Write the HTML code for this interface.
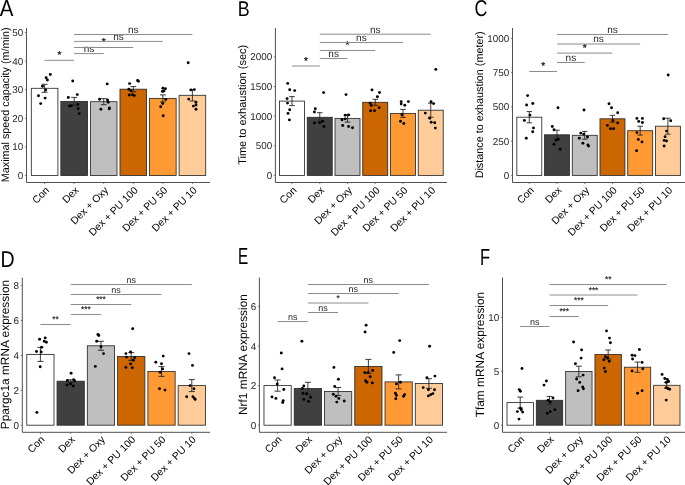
<!DOCTYPE html>
<html><head><meta charset="utf-8"><style>
html,body{margin:0;padding:0;background:#fff;}
svg{display:block;will-change:transform;}
text{font-family:"Liberation Sans",sans-serif;text-rendering:geometricPrecision;}
</style></head><body>
<svg width="685" height="485" viewBox="0 0 685 485">
<rect width="685" height="485" fill="#fff"/>
<text transform="translate(-0.19,16) scale(0.884,1)" font-size="23.2" fill="#000">A</text>
<text transform="translate(8.6,104.85) rotate(-90)" text-anchor="middle" font-size="10.8" fill="#000000">Maximal speed capacity (m/min)</text>
<line x1="44.6" y1="60.3" x2="74.16" y2="60.3" stroke="#8c8c8c" stroke-width="1.0"/>
<text x="59.38" y="58.1" text-anchor="middle" font-size="10.0" stroke="#262626" stroke-width="0.35" fill="#262626">*</text>
<line x1="74.16" y1="53.6" x2="103.72" y2="53.6" stroke="#8c8c8c" stroke-width="1.0"/>
<text x="88.94" y="51.9" text-anchor="middle" font-size="10.0" fill="#262626">ns</text>
<line x1="74.16" y1="47.5" x2="133.28" y2="47.5" stroke="#8c8c8c" stroke-width="1.0"/>
<text x="103.72" y="45.3" text-anchor="middle" font-size="10.0" stroke="#262626" stroke-width="0.35" fill="#262626">*</text>
<line x1="74.16" y1="41.4" x2="162.84" y2="41.4" stroke="#8c8c8c" stroke-width="1.0"/>
<text x="118.5" y="39.7" text-anchor="middle" font-size="10.0" fill="#262626">ns</text>
<line x1="74.16" y1="34.5" x2="192.4" y2="34.5" stroke="#8c8c8c" stroke-width="1.0"/>
<text x="133.28" y="32.8" text-anchor="middle" font-size="10.0" fill="#262626">ns</text>
<rect x="31.3" y="88.3" width="26.6" height="87.2" fill="#ffffff" stroke="#2a2a2a" stroke-width="0.85"/>
<rect x="60.86" y="101.4" width="26.6" height="74.1" fill="#404040" stroke="#2a2a2a" stroke-width="0.85"/>
<rect x="90.42" y="101.7" width="26.6" height="73.8" fill="#bfbfbf" stroke="#2a2a2a" stroke-width="0.85"/>
<rect x="119.98" y="89.2" width="26.6" height="86.3" fill="#cc6600" stroke="#2a2a2a" stroke-width="0.85"/>
<rect x="149.54" y="98.4" width="26.6" height="77.1" fill="#ff9933" stroke="#2a2a2a" stroke-width="0.85"/>
<rect x="179.1" y="95.3" width="26.6" height="80.2" fill="#ffcc99" stroke="#2a2a2a" stroke-width="0.85"/>
<path d="M41.64 84.3H47.56M44.6 84.3V92.3M41.64 92.3H47.56" stroke="#262626" stroke-width="0.9" fill="none"/>
<path d="M71.2 97.4H77.12M74.16 97.4V105.4M71.2 105.4H77.12" stroke="#262626" stroke-width="0.9" fill="none"/>
<path d="M100.76 98.7H106.68M103.72 98.7V104.7M100.76 104.7H106.68" stroke="#262626" stroke-width="0.9" fill="none"/>
<path d="M130.32 86.6H136.24M133.28 86.6V91.8M130.32 91.8H136.24" stroke="#262626" stroke-width="0.9" fill="none"/>
<path d="M159.88 94.9H165.8M162.84 94.9V101.9M159.88 101.9H165.8" stroke="#262626" stroke-width="0.9" fill="none"/>
<path d="M189.44 89.6H195.36M192.4 89.6V101M189.44 101H195.36" stroke="#262626" stroke-width="0.9" fill="none"/>
<circle cx="50.3" cy="74.5" r="1.45"/>
<circle cx="46.1" cy="77.7" r="1.45"/>
<circle cx="47.4" cy="80" r="1.45"/>
<circle cx="42.5" cy="86.3" r="1.45"/>
<circle cx="45.7" cy="90" r="1.45"/>
<circle cx="38.5" cy="95.7" r="1.45"/>
<circle cx="45.1" cy="98.1" r="1.45"/>
<circle cx="40.7" cy="103.6" r="1.45"/>
<circle cx="72.7" cy="81" r="1.45"/>
<circle cx="77.3" cy="94.6" r="1.45"/>
<circle cx="68.3" cy="97.5" r="1.45"/>
<circle cx="69.4" cy="106" r="1.45"/>
<circle cx="71.4" cy="105.7" r="1.45"/>
<circle cx="77.7" cy="104.4" r="1.45"/>
<circle cx="78.2" cy="108.6" r="1.45"/>
<circle cx="79.2" cy="113.6" r="1.45"/>
<circle cx="107.2" cy="83.9" r="1.45"/>
<circle cx="99.6" cy="99.2" r="1.45"/>
<circle cx="107.5" cy="100" r="1.45"/>
<circle cx="108.2" cy="102.3" r="1.45"/>
<circle cx="100.9" cy="109.3" r="1.45"/>
<circle cx="109.5" cy="108" r="1.45"/>
<circle cx="109.2" cy="108.9" r="1.45"/>
<circle cx="137.6" cy="80.4" r="1.45"/>
<circle cx="138.4" cy="81.2" r="1.45"/>
<circle cx="129.6" cy="83.6" r="1.45"/>
<circle cx="128.9" cy="89.2" r="1.45"/>
<circle cx="131" cy="90.7" r="1.45"/>
<circle cx="129.3" cy="95" r="1.45"/>
<circle cx="132.5" cy="94.7" r="1.45"/>
<circle cx="134.3" cy="95.6" r="1.45"/>
<circle cx="162.9" cy="88.2" r="1.45"/>
<circle cx="165.4" cy="88.8" r="1.45"/>
<circle cx="162.4" cy="91.4" r="1.45"/>
<circle cx="163.9" cy="91.1" r="1.45"/>
<circle cx="165.8" cy="99.4" r="1.45"/>
<circle cx="162.7" cy="103.5" r="1.45"/>
<circle cx="160.7" cy="106.7" r="1.45"/>
<circle cx="163.2" cy="115.8" r="1.45"/>
<circle cx="188.2" cy="62.7" r="1.45"/>
<circle cx="190.9" cy="89.9" r="1.45"/>
<circle cx="194.3" cy="89.6" r="1.45"/>
<circle cx="188.7" cy="99.1" r="1.45"/>
<circle cx="196" cy="102.3" r="1.45"/>
<circle cx="196" cy="105" r="1.45"/>
<circle cx="193.4" cy="106.1" r="1.45"/>
<circle cx="196" cy="109.3" r="1.45"/>
<path d="M26.5 28V182.5H210" stroke="#505050" stroke-width="1.0" fill="none"/>
<line x1="24.9" y1="175.5" x2="26.5" y2="175.5" stroke="#505050" stroke-width="0.7"/>
<text x="23.3" y="179.05" text-anchor="end" font-size="9.9" fill="#262626">0</text>
<line x1="24.9" y1="146.9" x2="26.5" y2="146.9" stroke="#505050" stroke-width="0.7"/>
<text x="23.3" y="150.45" text-anchor="end" font-size="9.9" fill="#262626">10</text>
<line x1="24.9" y1="118.3" x2="26.5" y2="118.3" stroke="#505050" stroke-width="0.7"/>
<text x="23.3" y="121.85" text-anchor="end" font-size="9.9" fill="#262626">20</text>
<line x1="24.9" y1="89.7" x2="26.5" y2="89.7" stroke="#505050" stroke-width="0.7"/>
<text x="23.3" y="93.25" text-anchor="end" font-size="9.9" fill="#262626">30</text>
<line x1="24.9" y1="61.1" x2="26.5" y2="61.1" stroke="#505050" stroke-width="0.7"/>
<text x="23.3" y="64.65" text-anchor="end" font-size="9.9" fill="#262626">40</text>
<line x1="24.9" y1="32.5" x2="26.5" y2="32.5" stroke="#505050" stroke-width="0.7"/>
<text x="23.3" y="36.05" text-anchor="end" font-size="9.9" fill="#262626">50</text>
<line x1="44.6" y1="182.5" x2="44.6" y2="184.1" stroke="#505050" stroke-width="0.7"/>
<text transform="translate(49.8,190.85) rotate(-45)" text-anchor="end" font-size="10.3" fill="#000000">Con</text>
<line x1="74.16" y1="182.5" x2="74.16" y2="184.1" stroke="#505050" stroke-width="0.7"/>
<text transform="translate(79.36,190.85) rotate(-45)" text-anchor="end" font-size="10.3" fill="#000000">Dex</text>
<line x1="103.72" y1="182.5" x2="103.72" y2="184.1" stroke="#505050" stroke-width="0.7"/>
<text transform="translate(108.92,190.85) rotate(-45)" text-anchor="end" font-size="10.3" fill="#000000">Dex + Oxy</text>
<line x1="133.28" y1="182.5" x2="133.28" y2="184.1" stroke="#505050" stroke-width="0.7"/>
<text transform="translate(138.48,190.85) rotate(-45)" text-anchor="end" font-size="10.3" fill="#000000">Dex + PU 100</text>
<line x1="162.84" y1="182.5" x2="162.84" y2="184.1" stroke="#505050" stroke-width="0.7"/>
<text transform="translate(168.04,190.85) rotate(-45)" text-anchor="end" font-size="10.3" fill="#000000">Dex + PU 50</text>
<line x1="192.4" y1="182.5" x2="192.4" y2="184.1" stroke="#505050" stroke-width="0.7"/>
<text transform="translate(197.6,190.85) rotate(-45)" text-anchor="end" font-size="10.3" fill="#000000">Dex + PU 10</text>
<text transform="translate(237.79,16) scale(0.834,1)" font-size="21.4" fill="#000">B</text>
<text transform="translate(245.7,104.85) rotate(-90)" text-anchor="middle" font-size="11.0" fill="#000000">Time to exhaustion (sec)</text>
<line x1="292" y1="66" x2="319.75" y2="66" stroke="#8c8c8c" stroke-width="1.0"/>
<text x="305.88" y="63.8" text-anchor="middle" font-size="10.0" stroke="#262626" stroke-width="0.35" fill="#262626">*</text>
<line x1="319.75" y1="58.5" x2="347.5" y2="58.5" stroke="#8c8c8c" stroke-width="1.0"/>
<text x="333.62" y="56.8" text-anchor="middle" font-size="10.0" fill="#262626">ns</text>
<line x1="319.75" y1="50.5" x2="375.25" y2="50.5" stroke="#8c8c8c" stroke-width="1.0"/>
<text x="347.5" y="48.3" text-anchor="middle" font-size="10.0" stroke="#262626" stroke-width="0.35" fill="#262626">*</text>
<line x1="319.75" y1="42.5" x2="403" y2="42.5" stroke="#8c8c8c" stroke-width="1.0"/>
<text x="361.38" y="40.8" text-anchor="middle" font-size="10.0" fill="#262626">ns</text>
<line x1="319.75" y1="34.2" x2="430.75" y2="34.2" stroke="#8c8c8c" stroke-width="1.0"/>
<text x="375.25" y="32.5" text-anchor="middle" font-size="10.0" fill="#262626">ns</text>
<rect x="279.51" y="101.1" width="24.98" height="74.3" fill="#ffffff" stroke="#2a2a2a" stroke-width="0.85"/>
<rect x="307.26" y="117.3" width="24.98" height="58.1" fill="#404040" stroke="#2a2a2a" stroke-width="0.85"/>
<rect x="335.01" y="118.4" width="24.98" height="57" fill="#bfbfbf" stroke="#2a2a2a" stroke-width="0.85"/>
<rect x="362.76" y="102.3" width="24.98" height="73.1" fill="#cc6600" stroke="#2a2a2a" stroke-width="0.85"/>
<rect x="390.51" y="113.4" width="24.98" height="62" fill="#ff9933" stroke="#2a2a2a" stroke-width="0.85"/>
<rect x="418.26" y="110.2" width="24.98" height="65.2" fill="#ffcc99" stroke="#2a2a2a" stroke-width="0.85"/>
<path d="M289.23 96.6H294.77M292 96.6V105.6M289.23 105.6H294.77" stroke="#262626" stroke-width="0.9" fill="none"/>
<path d="M316.98 112.7H322.52M319.75 112.7V121.9M316.98 121.9H322.52" stroke="#262626" stroke-width="0.9" fill="none"/>
<path d="M344.73 114.7H350.27M347.5 114.7V122.1M344.73 122.1H350.27" stroke="#262626" stroke-width="0.9" fill="none"/>
<path d="M372.48 99.3H378.02M375.25 99.3V105.3M372.48 105.3H378.02" stroke="#262626" stroke-width="0.9" fill="none"/>
<path d="M400.23 109.4H405.77M403 109.4V117.4M400.23 117.4H405.77" stroke="#262626" stroke-width="0.9" fill="none"/>
<path d="M427.98 103.2H433.52M430.75 103.2V117.2M427.98 117.2H433.52" stroke="#262626" stroke-width="0.9" fill="none"/>
<circle cx="287.7" cy="83.4" r="1.45"/>
<circle cx="289.7" cy="89.7" r="1.45"/>
<circle cx="294.7" cy="90.6" r="1.45"/>
<circle cx="287.1" cy="98.6" r="1.45"/>
<circle cx="287.5" cy="103.1" r="1.45"/>
<circle cx="289.7" cy="109.8" r="1.45"/>
<circle cx="288" cy="113.4" r="1.45"/>
<circle cx="289.4" cy="119.9" r="1.45"/>
<circle cx="323.6" cy="92.6" r="1.45"/>
<circle cx="315.3" cy="108.8" r="1.45"/>
<circle cx="314.4" cy="112" r="1.45"/>
<circle cx="314.4" cy="123" r="1.45"/>
<circle cx="319.7" cy="122.6" r="1.45"/>
<circle cx="322.6" cy="121.2" r="1.45"/>
<circle cx="323.9" cy="126.5" r="1.45"/>
<circle cx="346" cy="94.6" r="1.45"/>
<circle cx="345.2" cy="115.3" r="1.45"/>
<circle cx="348.6" cy="114.9" r="1.45"/>
<circle cx="342" cy="119.7" r="1.45"/>
<circle cx="345.2" cy="118.9" r="1.45"/>
<circle cx="342.7" cy="125.5" r="1.45"/>
<circle cx="348.6" cy="126.5" r="1.45"/>
<circle cx="352.5" cy="127.8" r="1.45"/>
<circle cx="372" cy="89.9" r="1.45"/>
<circle cx="379.5" cy="92.5" r="1.45"/>
<circle cx="377.4" cy="96.8" r="1.45"/>
<circle cx="370.2" cy="103.3" r="1.45"/>
<circle cx="371.2" cy="105.5" r="1.45"/>
<circle cx="379.2" cy="107.6" r="1.45"/>
<circle cx="370.6" cy="110.8" r="1.45"/>
<circle cx="374.5" cy="110.8" r="1.45"/>
<circle cx="401.2" cy="101.6" r="1.45"/>
<circle cx="401.2" cy="104" r="1.45"/>
<circle cx="404.8" cy="105.2" r="1.45"/>
<circle cx="408.4" cy="101.6" r="1.45"/>
<circle cx="401.9" cy="114.8" r="1.45"/>
<circle cx="400.5" cy="121.3" r="1.45"/>
<circle cx="403.8" cy="123.5" r="1.45"/>
<circle cx="435.8" cy="69.4" r="1.45"/>
<circle cx="431" cy="101.8" r="1.45"/>
<circle cx="433.6" cy="103.6" r="1.45"/>
<circle cx="425.3" cy="113.1" r="1.45"/>
<circle cx="429.7" cy="118.2" r="1.45"/>
<circle cx="431.2" cy="122.3" r="1.45"/>
<circle cx="434.7" cy="122.8" r="1.45"/>
<circle cx="435.4" cy="128.1" r="1.45"/>
<path d="M275.4 28V182.5H447" stroke="#505050" stroke-width="1.0" fill="none"/>
<line x1="273.8" y1="175.4" x2="275.4" y2="175.4" stroke="#505050" stroke-width="0.7"/>
<text x="272.2" y="178.95" text-anchor="end" font-size="9.9" fill="#262626">0</text>
<line x1="273.8" y1="145.77" x2="275.4" y2="145.77" stroke="#505050" stroke-width="0.7"/>
<text x="272.2" y="149.32" text-anchor="end" font-size="9.9" fill="#262626">500</text>
<line x1="273.8" y1="116.14" x2="275.4" y2="116.14" stroke="#505050" stroke-width="0.7"/>
<text x="272.2" y="119.69" text-anchor="end" font-size="9.9" fill="#262626">1000</text>
<line x1="273.8" y1="86.51" x2="275.4" y2="86.51" stroke="#505050" stroke-width="0.7"/>
<text x="272.2" y="90.06" text-anchor="end" font-size="9.9" fill="#262626">1500</text>
<line x1="273.8" y1="56.88" x2="275.4" y2="56.88" stroke="#505050" stroke-width="0.7"/>
<text x="272.2" y="60.43" text-anchor="end" font-size="9.9" fill="#262626">2000</text>
<line x1="292" y1="182.5" x2="292" y2="184.1" stroke="#505050" stroke-width="0.7"/>
<text transform="translate(297.2,190.85) rotate(-45)" text-anchor="end" font-size="10.3" fill="#000000">Con</text>
<line x1="319.75" y1="182.5" x2="319.75" y2="184.1" stroke="#505050" stroke-width="0.7"/>
<text transform="translate(324.95,190.85) rotate(-45)" text-anchor="end" font-size="10.3" fill="#000000">Dex</text>
<line x1="347.5" y1="182.5" x2="347.5" y2="184.1" stroke="#505050" stroke-width="0.7"/>
<text transform="translate(352.7,190.85) rotate(-45)" text-anchor="end" font-size="10.3" fill="#000000">Dex + Oxy</text>
<line x1="375.25" y1="182.5" x2="375.25" y2="184.1" stroke="#505050" stroke-width="0.7"/>
<text transform="translate(380.45,190.85) rotate(-45)" text-anchor="end" font-size="10.3" fill="#000000">Dex + PU 100</text>
<line x1="403" y1="182.5" x2="403" y2="184.1" stroke="#505050" stroke-width="0.7"/>
<text transform="translate(408.2,190.85) rotate(-45)" text-anchor="end" font-size="10.3" fill="#000000">Dex + PU 50</text>
<line x1="430.75" y1="182.5" x2="430.75" y2="184.1" stroke="#505050" stroke-width="0.7"/>
<text transform="translate(435.95,190.85) rotate(-45)" text-anchor="end" font-size="10.3" fill="#000000">Dex + PU 10</text>
<text transform="translate(474.44,16) scale(0.783,1)" font-size="22.8" fill="#000">C</text>
<text transform="translate(482.8,104.85) rotate(-90)" text-anchor="middle" font-size="10.8" fill="#000000">Distance to exhaustion (meter)</text>
<line x1="529.3" y1="71.5" x2="557.02" y2="71.5" stroke="#8c8c8c" stroke-width="1.0"/>
<text x="543.16" y="69.3" text-anchor="middle" font-size="10.0" stroke="#262626" stroke-width="0.35" fill="#262626">*</text>
<line x1="557.02" y1="62.5" x2="584.74" y2="62.5" stroke="#8c8c8c" stroke-width="1.0"/>
<text x="570.88" y="60.8" text-anchor="middle" font-size="10.0" fill="#262626">ns</text>
<line x1="557.02" y1="53.1" x2="612.46" y2="53.1" stroke="#8c8c8c" stroke-width="1.0"/>
<text x="584.74" y="50.9" text-anchor="middle" font-size="10.0" stroke="#262626" stroke-width="0.35" fill="#262626">*</text>
<line x1="557.02" y1="44" x2="640.18" y2="44" stroke="#8c8c8c" stroke-width="1.0"/>
<text x="598.6" y="42.3" text-anchor="middle" font-size="10.0" fill="#262626">ns</text>
<line x1="557.02" y1="34.5" x2="667.9" y2="34.5" stroke="#8c8c8c" stroke-width="1.0"/>
<text x="612.46" y="32.8" text-anchor="middle" font-size="10.0" fill="#262626">ns</text>
<rect x="516.83" y="117.2" width="24.95" height="58.2" fill="#ffffff" stroke="#2a2a2a" stroke-width="0.85"/>
<rect x="544.55" y="134.8" width="24.95" height="40.6" fill="#404040" stroke="#2a2a2a" stroke-width="0.85"/>
<rect x="572.27" y="135.3" width="24.95" height="40.1" fill="#bfbfbf" stroke="#2a2a2a" stroke-width="0.85"/>
<rect x="599.99" y="118.8" width="24.95" height="56.6" fill="#cc6600" stroke="#2a2a2a" stroke-width="0.85"/>
<rect x="627.71" y="130.7" width="24.95" height="44.7" fill="#ff9933" stroke="#2a2a2a" stroke-width="0.85"/>
<rect x="655.43" y="126.2" width="24.95" height="49.2" fill="#ffcc99" stroke="#2a2a2a" stroke-width="0.85"/>
<path d="M526.53 111.6H532.07M529.3 111.6V122.8M526.53 122.8H532.07" stroke="#262626" stroke-width="0.9" fill="none"/>
<path d="M554.25 130.2H559.79M557.02 130.2V139.4M554.25 139.4H559.79" stroke="#262626" stroke-width="0.9" fill="none"/>
<path d="M581.97 131.4H587.51M584.74 131.4V139.2M581.97 139.2H587.51" stroke="#262626" stroke-width="0.9" fill="none"/>
<path d="M609.69 115.3H615.23M612.46 115.3V122.3M609.69 122.3H615.23" stroke="#262626" stroke-width="0.9" fill="none"/>
<path d="M637.41 126.3H642.95M640.18 126.3V135.1M637.41 135.1H642.95" stroke="#262626" stroke-width="0.9" fill="none"/>
<path d="M665.13 118.2H670.67M667.9 118.2V134.2M665.13 134.2H670.67" stroke="#262626" stroke-width="0.9" fill="none"/>
<circle cx="527.6" cy="95.6" r="1.45"/>
<circle cx="526.6" cy="105" r="1.45"/>
<circle cx="532.8" cy="103.5" r="1.45"/>
<circle cx="529.9" cy="115.1" r="1.45"/>
<circle cx="524.4" cy="120.4" r="1.45"/>
<circle cx="533.5" cy="127.9" r="1.45"/>
<circle cx="532.7" cy="131.7" r="1.45"/>
<circle cx="526.3" cy="138.2" r="1.45"/>
<circle cx="558" cy="107.7" r="1.45"/>
<circle cx="552.3" cy="126.5" r="1.45"/>
<circle cx="554" cy="129.8" r="1.45"/>
<circle cx="558.3" cy="139.2" r="1.45"/>
<circle cx="556.2" cy="140.3" r="1.45"/>
<circle cx="554" cy="144.2" r="1.45"/>
<circle cx="560.2" cy="149.3" r="1.45"/>
<circle cx="584" cy="110" r="1.45"/>
<circle cx="580.7" cy="133.1" r="1.45"/>
<circle cx="583.6" cy="134.1" r="1.45"/>
<circle cx="579.3" cy="138.2" r="1.45"/>
<circle cx="587.5" cy="137" r="1.45"/>
<circle cx="582.9" cy="143.2" r="1.45"/>
<circle cx="587.9" cy="144.9" r="1.45"/>
<circle cx="588.6" cy="146.1" r="1.45"/>
<circle cx="609" cy="103.7" r="1.45"/>
<circle cx="611.5" cy="107.8" r="1.45"/>
<circle cx="617.7" cy="112.8" r="1.45"/>
<circle cx="612.9" cy="120.4" r="1.45"/>
<circle cx="617.7" cy="122.9" r="1.45"/>
<circle cx="607.4" cy="125.4" r="1.45"/>
<circle cx="610.5" cy="128.7" r="1.45"/>
<circle cx="613.6" cy="128.7" r="1.45"/>
<circle cx="636.9" cy="118.4" r="1.45"/>
<circle cx="642.4" cy="118.4" r="1.45"/>
<circle cx="638.7" cy="121.4" r="1.45"/>
<circle cx="642.4" cy="122.5" r="1.45"/>
<circle cx="636.9" cy="132.6" r="1.45"/>
<circle cx="638.3" cy="139.4" r="1.45"/>
<circle cx="642" cy="141.9" r="1.45"/>
<circle cx="636.6" cy="150.7" r="1.45"/>
<circle cx="668.2" cy="75" r="1.45"/>
<circle cx="663.7" cy="118.8" r="1.45"/>
<circle cx="670.7" cy="120.8" r="1.45"/>
<circle cx="666.5" cy="131.1" r="1.45"/>
<circle cx="665.1" cy="136.7" r="1.45"/>
<circle cx="664.1" cy="140.4" r="1.45"/>
<circle cx="666.5" cy="141" r="1.45"/>
<circle cx="664.1" cy="146" r="1.45"/>
<path d="M512.5 28V182.5H685" stroke="#505050" stroke-width="1.0" fill="none"/>
<line x1="510.9" y1="175.4" x2="512.5" y2="175.4" stroke="#505050" stroke-width="0.7"/>
<text x="509.3" y="178.95" text-anchor="end" font-size="9.9" fill="#262626">0</text>
<line x1="510.9" y1="141.15" x2="512.5" y2="141.15" stroke="#505050" stroke-width="0.7"/>
<text x="509.3" y="144.7" text-anchor="end" font-size="9.9" fill="#262626">250</text>
<line x1="510.9" y1="106.9" x2="512.5" y2="106.9" stroke="#505050" stroke-width="0.7"/>
<text x="509.3" y="110.45" text-anchor="end" font-size="9.9" fill="#262626">500</text>
<line x1="510.9" y1="72.65" x2="512.5" y2="72.65" stroke="#505050" stroke-width="0.7"/>
<text x="509.3" y="76.2" text-anchor="end" font-size="9.9" fill="#262626">750</text>
<line x1="510.9" y1="38.4" x2="512.5" y2="38.4" stroke="#505050" stroke-width="0.7"/>
<text x="509.3" y="41.95" text-anchor="end" font-size="9.9" fill="#262626">1000</text>
<line x1="529.3" y1="182.5" x2="529.3" y2="184.1" stroke="#505050" stroke-width="0.7"/>
<text transform="translate(534.5,190.85) rotate(-45)" text-anchor="end" font-size="10.3" fill="#000000">Con</text>
<line x1="557.02" y1="182.5" x2="557.02" y2="184.1" stroke="#505050" stroke-width="0.7"/>
<text transform="translate(562.22,190.85) rotate(-45)" text-anchor="end" font-size="10.3" fill="#000000">Dex</text>
<line x1="584.74" y1="182.5" x2="584.74" y2="184.1" stroke="#505050" stroke-width="0.7"/>
<text transform="translate(589.94,190.85) rotate(-45)" text-anchor="end" font-size="10.3" fill="#000000">Dex + Oxy</text>
<line x1="612.46" y1="182.5" x2="612.46" y2="184.1" stroke="#505050" stroke-width="0.7"/>
<text transform="translate(617.66,190.85) rotate(-45)" text-anchor="end" font-size="10.3" fill="#000000">Dex + PU 100</text>
<line x1="640.18" y1="182.5" x2="640.18" y2="184.1" stroke="#505050" stroke-width="0.7"/>
<text transform="translate(645.38,190.85) rotate(-45)" text-anchor="end" font-size="10.3" fill="#000000">Dex + PU 50</text>
<line x1="667.9" y1="182.5" x2="667.9" y2="184.1" stroke="#505050" stroke-width="0.7"/>
<text transform="translate(673.1,190.85) rotate(-45)" text-anchor="end" font-size="10.3" fill="#000000">Dex + PU 10</text>
<text transform="translate(0.4,267) scale(0.856,1)" font-size="22.8" fill="#000">D</text>
<text transform="translate(8.6,354.55) rotate(-90)" text-anchor="middle" font-size="11.9" fill="#000000">Ppargc1a mRNA expression</text>
<line x1="40.4" y1="324.5" x2="70.68" y2="324.5" stroke="#8c8c8c" stroke-width="1.0"/>
<text x="55.54" y="322.3" text-anchor="middle" font-size="8.2" stroke="#262626" stroke-width="0.2" fill="#262626">**</text>
<line x1="70.68" y1="314.5" x2="100.96" y2="314.5" stroke="#8c8c8c" stroke-width="1.0"/>
<text x="85.82" y="312.3" text-anchor="middle" font-size="8.2" stroke="#262626" stroke-width="0.2" fill="#262626">***</text>
<line x1="70.68" y1="304.5" x2="131.24" y2="304.5" stroke="#8c8c8c" stroke-width="1.0"/>
<text x="100.96" y="302.3" text-anchor="middle" font-size="8.2" stroke="#262626" stroke-width="0.2" fill="#262626">***</text>
<line x1="70.68" y1="294.5" x2="161.52" y2="294.5" stroke="#8c8c8c" stroke-width="1.0"/>
<text x="116.1" y="292.8" text-anchor="middle" font-size="9.0" fill="#262626">ns</text>
<line x1="70.68" y1="284.5" x2="191.8" y2="284.5" stroke="#8c8c8c" stroke-width="1.0"/>
<text x="131.24" y="282.8" text-anchor="middle" font-size="9.0" fill="#262626">ns</text>
<rect x="26.77" y="354.4" width="27.25" height="70.8" fill="#ffffff" stroke="#2a2a2a" stroke-width="0.85"/>
<rect x="57.05" y="381.2" width="27.25" height="44" fill="#404040" stroke="#2a2a2a" stroke-width="0.85"/>
<rect x="87.33" y="345.8" width="27.25" height="79.4" fill="#bfbfbf" stroke="#2a2a2a" stroke-width="0.85"/>
<rect x="117.61" y="356.5" width="27.25" height="68.7" fill="#cc6600" stroke="#2a2a2a" stroke-width="0.85"/>
<rect x="147.89" y="371.5" width="27.25" height="53.7" fill="#ff9933" stroke="#2a2a2a" stroke-width="0.85"/>
<rect x="178.17" y="385.6" width="27.25" height="39.6" fill="#ffcc99" stroke="#2a2a2a" stroke-width="0.85"/>
<path d="M37.37 347.4H43.43M40.4 347.4V361.4M37.37 361.4H43.43" stroke="#262626" stroke-width="0.9" fill="none"/>
<path d="M67.65 379.8H73.71M70.68 379.8V382.6M67.65 382.6H73.71" stroke="#262626" stroke-width="0.9" fill="none"/>
<path d="M97.93 341.3H103.99M100.96 341.3V350.3M97.93 350.3H103.99" stroke="#262626" stroke-width="0.9" fill="none"/>
<path d="M128.21 352.6H134.27M131.24 352.6V360.4M128.21 360.4H134.27" stroke="#262626" stroke-width="0.9" fill="none"/>
<path d="M158.49 366.6H164.55M161.52 366.6V376.4M158.49 376.4H164.55" stroke="#262626" stroke-width="0.9" fill="none"/>
<path d="M188.77 379.6H194.83M191.8 379.6V391.6M188.77 391.6H194.83" stroke="#262626" stroke-width="0.9" fill="none"/>
<circle cx="39.6" cy="339.2" r="1.45"/>
<circle cx="45.2" cy="337.9" r="1.45"/>
<circle cx="44.3" cy="341.2" r="1.45"/>
<circle cx="46.4" cy="342.3" r="1.45"/>
<circle cx="41.6" cy="347.2" r="1.45"/>
<circle cx="36.5" cy="351.5" r="1.45"/>
<circle cx="41.2" cy="352" r="1.45"/>
<circle cx="40.2" cy="366.8" r="1.45"/>
<circle cx="36.9" cy="412.4" r="1.45"/>
<circle cx="71.1" cy="373.2" r="1.45"/>
<circle cx="67.4" cy="380.4" r="1.45"/>
<circle cx="73.6" cy="379.8" r="1.45"/>
<circle cx="74.6" cy="380.8" r="1.45"/>
<circle cx="67" cy="385" r="1.45"/>
<circle cx="70.5" cy="383.9" r="1.45"/>
<circle cx="73.2" cy="386" r="1.45"/>
<circle cx="97.9" cy="334.4" r="1.45"/>
<circle cx="98.8" cy="335.5" r="1.45"/>
<circle cx="96.7" cy="341.2" r="1.45"/>
<circle cx="101" cy="346.8" r="1.45"/>
<circle cx="103.5" cy="353.6" r="1.45"/>
<circle cx="95.3" cy="366.4" r="1.45"/>
<circle cx="132.7" cy="328.7" r="1.45"/>
<circle cx="125.9" cy="353.6" r="1.45"/>
<circle cx="130.6" cy="352" r="1.45"/>
<circle cx="126.5" cy="357.1" r="1.45"/>
<circle cx="134.7" cy="357.5" r="1.45"/>
<circle cx="133.3" cy="360.2" r="1.45"/>
<circle cx="130.6" cy="363.9" r="1.45"/>
<circle cx="125.9" cy="367.4" r="1.45"/>
<circle cx="132.3" cy="367.8" r="1.45"/>
<circle cx="163.2" cy="356.1" r="1.45"/>
<circle cx="155.8" cy="362.3" r="1.45"/>
<circle cx="161.5" cy="363.7" r="1.45"/>
<circle cx="162.6" cy="368.9" r="1.45"/>
<circle cx="160.1" cy="372.2" r="1.45"/>
<circle cx="159.5" cy="388.7" r="1.45"/>
<circle cx="165" cy="390.1" r="1.45"/>
<circle cx="189" cy="353.6" r="1.45"/>
<circle cx="192.5" cy="365.4" r="1.45"/>
<circle cx="190" cy="385.6" r="1.45"/>
<circle cx="193.9" cy="388.7" r="1.45"/>
<circle cx="186.7" cy="396.7" r="1.45"/>
<circle cx="192.9" cy="396.7" r="1.45"/>
<circle cx="195.2" cy="399.4" r="1.45"/>
<circle cx="194.5" cy="398.4" r="1.45"/>
<path d="M22.3 277.6V432.3H210.1" stroke="#505050" stroke-width="1.0" fill="none"/>
<line x1="20.7" y1="425.2" x2="22.3" y2="425.2" stroke="#505050" stroke-width="0.7"/>
<text x="19.1" y="428.75" text-anchor="end" font-size="9.9" fill="#262626">0</text>
<line x1="20.7" y1="390.32" x2="22.3" y2="390.32" stroke="#505050" stroke-width="0.7"/>
<text x="19.1" y="393.87" text-anchor="end" font-size="9.9" fill="#262626">2</text>
<line x1="20.7" y1="355.44" x2="22.3" y2="355.44" stroke="#505050" stroke-width="0.7"/>
<text x="19.1" y="358.99" text-anchor="end" font-size="9.9" fill="#262626">4</text>
<line x1="20.7" y1="320.56" x2="22.3" y2="320.56" stroke="#505050" stroke-width="0.7"/>
<text x="19.1" y="324.11" text-anchor="end" font-size="9.9" fill="#262626">6</text>
<line x1="20.7" y1="285.68" x2="22.3" y2="285.68" stroke="#505050" stroke-width="0.7"/>
<text x="19.1" y="289.23" text-anchor="end" font-size="9.9" fill="#262626">8</text>
<line x1="40.4" y1="432.3" x2="40.4" y2="433.9" stroke="#505050" stroke-width="0.7"/>
<text transform="translate(45.2,440.2) rotate(-45)" text-anchor="end" font-size="10.3" fill="#000000">Con</text>
<line x1="70.68" y1="432.3" x2="70.68" y2="433.9" stroke="#505050" stroke-width="0.7"/>
<text transform="translate(75.48,440.2) rotate(-45)" text-anchor="end" font-size="10.3" fill="#000000">Dex</text>
<line x1="100.96" y1="432.3" x2="100.96" y2="433.9" stroke="#505050" stroke-width="0.7"/>
<text transform="translate(105.76,440.2) rotate(-45)" text-anchor="end" font-size="10.3" fill="#000000">Dex + Oxy</text>
<line x1="131.24" y1="432.3" x2="131.24" y2="433.9" stroke="#505050" stroke-width="0.7"/>
<text transform="translate(136.04,440.2) rotate(-45)" text-anchor="end" font-size="10.3" fill="#000000">Dex + PU 100</text>
<line x1="161.52" y1="432.3" x2="161.52" y2="433.9" stroke="#505050" stroke-width="0.7"/>
<text transform="translate(166.32,440.2) rotate(-45)" text-anchor="end" font-size="10.3" fill="#000000">Dex + PU 50</text>
<line x1="191.8" y1="432.3" x2="191.8" y2="433.9" stroke="#505050" stroke-width="0.7"/>
<text transform="translate(196.6,440.2) rotate(-45)" text-anchor="end" font-size="10.3" fill="#000000">Dex + PU 10</text>
<text transform="translate(237.99,264) scale(0.657,1)" font-size="23.3" fill="#000">E</text>
<text transform="translate(246.5,354.55) rotate(-90)" text-anchor="middle" font-size="11.9" fill="#000000">Nrf1 mRNA expression</text>
<line x1="277.6" y1="321.5" x2="307.86" y2="321.5" stroke="#8c8c8c" stroke-width="1.0"/>
<text x="292.73" y="319.8" text-anchor="middle" font-size="9.0" fill="#262626">ns</text>
<line x1="307.86" y1="312.5" x2="338.12" y2="312.5" stroke="#8c8c8c" stroke-width="1.0"/>
<text x="322.99" y="310.8" text-anchor="middle" font-size="9.0" fill="#262626">ns</text>
<line x1="307.86" y1="303" x2="368.38" y2="303" stroke="#8c8c8c" stroke-width="1.0"/>
<text x="338.12" y="300.8" text-anchor="middle" font-size="8.2" stroke="#262626" stroke-width="0.2" fill="#262626">*</text>
<line x1="307.86" y1="293.5" x2="398.64" y2="293.5" stroke="#8c8c8c" stroke-width="1.0"/>
<text x="353.25" y="291.8" text-anchor="middle" font-size="9.0" fill="#262626">ns</text>
<line x1="307.86" y1="284.5" x2="428.9" y2="284.5" stroke="#8c8c8c" stroke-width="1.0"/>
<text x="368.38" y="282.8" text-anchor="middle" font-size="9.0" fill="#262626">ns</text>
<rect x="263.98" y="385.6" width="27.23" height="39.6" fill="#ffffff" stroke="#2a2a2a" stroke-width="0.85"/>
<rect x="294.24" y="388.5" width="27.23" height="36.7" fill="#404040" stroke="#2a2a2a" stroke-width="0.85"/>
<rect x="324.5" y="391.5" width="27.23" height="33.7" fill="#bfbfbf" stroke="#2a2a2a" stroke-width="0.85"/>
<rect x="354.76" y="366.4" width="27.23" height="58.8" fill="#cc6600" stroke="#2a2a2a" stroke-width="0.85"/>
<rect x="385.02" y="381.9" width="27.23" height="43.3" fill="#ff9933" stroke="#2a2a2a" stroke-width="0.85"/>
<rect x="415.28" y="383.5" width="27.23" height="41.7" fill="#ffcc99" stroke="#2a2a2a" stroke-width="0.85"/>
<path d="M274.57 380H280.63M277.6 380V391.2M274.57 391.2H280.63" stroke="#262626" stroke-width="0.9" fill="none"/>
<path d="M304.83 382.3H310.89M307.86 382.3V394.7M304.83 394.7H310.89" stroke="#262626" stroke-width="0.9" fill="none"/>
<path d="M335.09 387.5H341.15M338.12 387.5V395.5M335.09 395.5H341.15" stroke="#262626" stroke-width="0.9" fill="none"/>
<path d="M365.35 359.4H371.41M368.38 359.4V373.4M365.35 373.4H371.41" stroke="#262626" stroke-width="0.9" fill="none"/>
<path d="M395.61 374.9H401.67M398.64 374.9V388.9M395.61 388.9H401.67" stroke="#262626" stroke-width="0.9" fill="none"/>
<path d="M425.87 378.7H431.93M428.9 378.7V388.3M425.87 388.3H431.93" stroke="#262626" stroke-width="0.9" fill="none"/>
<circle cx="281.3" cy="353" r="1.45"/>
<circle cx="282.1" cy="368.9" r="1.45"/>
<circle cx="274.5" cy="377.7" r="1.45"/>
<circle cx="277.2" cy="383.9" r="1.45"/>
<circle cx="283.8" cy="389.5" r="1.45"/>
<circle cx="272" cy="396.9" r="1.45"/>
<circle cx="275.9" cy="398.4" r="1.45"/>
<circle cx="283.2" cy="400.8" r="1.45"/>
<circle cx="282.7" cy="402.5" r="1.45"/>
<circle cx="301.9" cy="341.2" r="1.45"/>
<circle cx="303.8" cy="386" r="1.45"/>
<circle cx="302.3" cy="388.5" r="1.45"/>
<circle cx="303" cy="393.2" r="1.45"/>
<circle cx="306.5" cy="393.8" r="1.45"/>
<circle cx="310.6" cy="397.3" r="1.45"/>
<circle cx="303.8" cy="399.4" r="1.45"/>
<circle cx="308.5" cy="401.4" r="1.45"/>
<circle cx="333.9" cy="367.4" r="1.45"/>
<circle cx="338.4" cy="379.2" r="1.45"/>
<circle cx="334.7" cy="386.4" r="1.45"/>
<circle cx="333.3" cy="394.2" r="1.45"/>
<circle cx="336" cy="396.3" r="1.45"/>
<circle cx="338.8" cy="398.4" r="1.45"/>
<circle cx="336.8" cy="402.1" r="1.45"/>
<circle cx="344.2" cy="401" r="1.45"/>
<circle cx="366.1" cy="325.2" r="1.45"/>
<circle cx="365.1" cy="332" r="1.45"/>
<circle cx="364.8" cy="372.6" r="1.45"/>
<circle cx="368.1" cy="372.6" r="1.45"/>
<circle cx="372.7" cy="370.5" r="1.45"/>
<circle cx="370.2" cy="376.7" r="1.45"/>
<circle cx="365.5" cy="380.8" r="1.45"/>
<circle cx="366.9" cy="382.3" r="1.45"/>
<circle cx="372.3" cy="382.9" r="1.45"/>
<circle cx="399.7" cy="340.6" r="1.45"/>
<circle cx="393.7" cy="352.4" r="1.45"/>
<circle cx="396.4" cy="383.9" r="1.45"/>
<circle cx="400.5" cy="382.3" r="1.45"/>
<circle cx="395.4" cy="393.2" r="1.45"/>
<circle cx="396.4" cy="395.3" r="1.45"/>
<circle cx="404.6" cy="394.6" r="1.45"/>
<circle cx="403.6" cy="396.3" r="1.45"/>
<circle cx="395.8" cy="398.8" r="1.45"/>
<circle cx="429.6" cy="346.2" r="1.45"/>
<circle cx="426.9" cy="377.7" r="1.45"/>
<circle cx="434.9" cy="376.1" r="1.45"/>
<circle cx="423.2" cy="387.6" r="1.45"/>
<circle cx="428.4" cy="389.7" r="1.45"/>
<circle cx="434.5" cy="389.7" r="1.45"/>
<circle cx="428.4" cy="395.9" r="1.45"/>
<circle cx="430.8" cy="394.6" r="1.45"/>
<circle cx="432.9" cy="393.6" r="1.45"/>
<path d="M259.4 277.6V432.3H447" stroke="#505050" stroke-width="1.0" fill="none"/>
<line x1="257.8" y1="425.2" x2="259.4" y2="425.2" stroke="#505050" stroke-width="0.7"/>
<text x="256.2" y="428.75" text-anchor="end" font-size="9.9" fill="#262626">0</text>
<line x1="257.8" y1="385.6" x2="259.4" y2="385.6" stroke="#505050" stroke-width="0.7"/>
<text x="256.2" y="389.15" text-anchor="end" font-size="9.9" fill="#262626">2</text>
<line x1="257.8" y1="346" x2="259.4" y2="346" stroke="#505050" stroke-width="0.7"/>
<text x="256.2" y="349.55" text-anchor="end" font-size="9.9" fill="#262626">4</text>
<line x1="257.8" y1="306.4" x2="259.4" y2="306.4" stroke="#505050" stroke-width="0.7"/>
<text x="256.2" y="309.95" text-anchor="end" font-size="9.9" fill="#262626">6</text>
<line x1="277.6" y1="432.3" x2="277.6" y2="433.9" stroke="#505050" stroke-width="0.7"/>
<text transform="translate(282.4,440.2) rotate(-45)" text-anchor="end" font-size="10.3" fill="#000000">Con</text>
<line x1="307.86" y1="432.3" x2="307.86" y2="433.9" stroke="#505050" stroke-width="0.7"/>
<text transform="translate(312.66,440.2) rotate(-45)" text-anchor="end" font-size="10.3" fill="#000000">Dex</text>
<line x1="338.12" y1="432.3" x2="338.12" y2="433.9" stroke="#505050" stroke-width="0.7"/>
<text transform="translate(342.92,440.2) rotate(-45)" text-anchor="end" font-size="10.3" fill="#000000">Dex + Oxy</text>
<line x1="368.38" y1="432.3" x2="368.38" y2="433.9" stroke="#505050" stroke-width="0.7"/>
<text transform="translate(373.18,440.2) rotate(-45)" text-anchor="end" font-size="10.3" fill="#000000">Dex + PU 100</text>
<line x1="398.64" y1="432.3" x2="398.64" y2="433.9" stroke="#505050" stroke-width="0.7"/>
<text transform="translate(403.44,440.2) rotate(-45)" text-anchor="end" font-size="10.3" fill="#000000">Dex + PU 50</text>
<line x1="428.9" y1="432.3" x2="428.9" y2="433.9" stroke="#505050" stroke-width="0.7"/>
<text transform="translate(433.7,440.2) rotate(-45)" text-anchor="end" font-size="10.3" fill="#000000">Dex + PU 10</text>
<text transform="translate(479.89,265) scale(0.714,1)" font-size="23.2" fill="#000">F</text>
<text transform="translate(483.5,354.55) rotate(-90)" text-anchor="middle" font-size="11.9" fill="#000000">Tfam mRNA expression</text>
<line x1="520.2" y1="326.5" x2="549.52" y2="326.5" stroke="#8c8c8c" stroke-width="1.0"/>
<text x="534.86" y="324.8" text-anchor="middle" font-size="9.0" fill="#262626">ns</text>
<line x1="549.52" y1="316.5" x2="578.84" y2="316.5" stroke="#8c8c8c" stroke-width="1.0"/>
<text x="564.18" y="314.3" text-anchor="middle" font-size="8.2" stroke="#262626" stroke-width="0.2" fill="#262626">***</text>
<line x1="549.52" y1="305.5" x2="608.16" y2="305.5" stroke="#8c8c8c" stroke-width="1.0"/>
<text x="578.84" y="303.3" text-anchor="middle" font-size="8.2" stroke="#262626" stroke-width="0.2" fill="#262626">***</text>
<line x1="549.52" y1="295" x2="637.48" y2="295" stroke="#8c8c8c" stroke-width="1.0"/>
<text x="593.5" y="292.8" text-anchor="middle" font-size="8.2" stroke="#262626" stroke-width="0.2" fill="#262626">***</text>
<line x1="549.52" y1="284.5" x2="666.8" y2="284.5" stroke="#8c8c8c" stroke-width="1.0"/>
<text x="608.16" y="282.3" text-anchor="middle" font-size="8.2" stroke="#262626" stroke-width="0.2" fill="#262626">**</text>
<rect x="507.01" y="402.6" width="26.39" height="22.6" fill="#ffffff" stroke="#2a2a2a" stroke-width="0.85"/>
<rect x="536.33" y="400.3" width="26.39" height="24.9" fill="#404040" stroke="#2a2a2a" stroke-width="0.85"/>
<rect x="565.65" y="371.5" width="26.39" height="53.7" fill="#bfbfbf" stroke="#2a2a2a" stroke-width="0.85"/>
<rect x="594.97" y="354.5" width="26.39" height="70.7" fill="#cc6600" stroke="#2a2a2a" stroke-width="0.85"/>
<rect x="624.29" y="367.2" width="26.39" height="58" fill="#ff9933" stroke="#2a2a2a" stroke-width="0.85"/>
<rect x="653.61" y="385.3" width="26.39" height="39.9" fill="#ffcc99" stroke="#2a2a2a" stroke-width="0.85"/>
<path d="M517.27 397.1H523.13M520.2 397.1V408.1M517.27 408.1H523.13" stroke="#262626" stroke-width="0.9" fill="none"/>
<path d="M546.59 396.4H552.45M549.52 396.4V404.2M546.59 404.2H552.45" stroke="#262626" stroke-width="0.9" fill="none"/>
<path d="M575.91 366.2H581.77M578.84 366.2V376.8M575.91 376.8H581.77" stroke="#262626" stroke-width="0.9" fill="none"/>
<path d="M605.23 350H611.09M608.16 350V359M605.23 359H611.09" stroke="#262626" stroke-width="0.9" fill="none"/>
<path d="M634.55 362.1H640.41M637.48 362.1V372.3M634.55 372.3H640.41" stroke="#262626" stroke-width="0.9" fill="none"/>
<path d="M663.87 382.4H669.73M666.8 382.4V388.2M663.87 388.2H669.73" stroke="#262626" stroke-width="0.9" fill="none"/>
<circle cx="522" cy="368.5" r="1.45"/>
<circle cx="519.2" cy="389.6" r="1.45"/>
<circle cx="520.4" cy="391.2" r="1.45"/>
<circle cx="520.4" cy="408.2" r="1.45"/>
<circle cx="521.3" cy="409.8" r="1.45"/>
<circle cx="517.4" cy="411.6" r="1.45"/>
<circle cx="522.6" cy="412.1" r="1.45"/>
<circle cx="519" cy="419.1" r="1.45"/>
<circle cx="546.4" cy="381" r="1.45"/>
<circle cx="544" cy="385.1" r="1.45"/>
<circle cx="553" cy="398" r="1.45"/>
<circle cx="548" cy="400.3" r="1.45"/>
<circle cx="550.3" cy="402.1" r="1.45"/>
<circle cx="554.8" cy="409.8" r="1.45"/>
<circle cx="550.3" cy="411.6" r="1.45"/>
<circle cx="547.3" cy="413.2" r="1.45"/>
<circle cx="573.6" cy="342" r="1.45"/>
<circle cx="581.6" cy="349.9" r="1.45"/>
<circle cx="581.1" cy="358.1" r="1.45"/>
<circle cx="575.4" cy="363.8" r="1.45"/>
<circle cx="583.1" cy="375.1" r="1.45"/>
<circle cx="576.6" cy="379" r="1.45"/>
<circle cx="579.7" cy="382.4" r="1.45"/>
<circle cx="582.7" cy="386.9" r="1.45"/>
<circle cx="583.4" cy="388.7" r="1.45"/>
<circle cx="578.1" cy="390.8" r="1.45"/>
<circle cx="606.5" cy="330.9" r="1.45"/>
<circle cx="609.5" cy="338.1" r="1.45"/>
<circle cx="610.4" cy="342.7" r="1.45"/>
<circle cx="605.4" cy="356.8" r="1.45"/>
<circle cx="607.6" cy="357.9" r="1.45"/>
<circle cx="603.8" cy="359.7" r="1.45"/>
<circle cx="609.2" cy="361.3" r="1.45"/>
<circle cx="604.2" cy="368.1" r="1.45"/>
<circle cx="605.4" cy="371.5" r="1.45"/>
<circle cx="639.4" cy="349.5" r="1.45"/>
<circle cx="632.1" cy="355.2" r="1.45"/>
<circle cx="634.9" cy="355.6" r="1.45"/>
<circle cx="632.6" cy="359" r="1.45"/>
<circle cx="642.1" cy="362.4" r="1.45"/>
<circle cx="642.8" cy="368.8" r="1.45"/>
<circle cx="632.1" cy="371" r="1.45"/>
<circle cx="637.6" cy="393.3" r="1.45"/>
<circle cx="642.1" cy="390.8" r="1.45"/>
<circle cx="662.1" cy="374.4" r="1.45"/>
<circle cx="664.8" cy="378.5" r="1.45"/>
<circle cx="667.3" cy="379.4" r="1.45"/>
<circle cx="666.2" cy="382.4" r="1.45"/>
<circle cx="668.4" cy="381.3" r="1.45"/>
<circle cx="666.2" cy="387.6" r="1.45"/>
<circle cx="669.6" cy="389.2" r="1.45"/>
<circle cx="667.8" cy="388.5" r="1.45"/>
<circle cx="666.2" cy="400.1" r="1.45"/>
<path d="M502.5 277.6V432.3H685" stroke="#505050" stroke-width="1.0" fill="none"/>
<line x1="500.9" y1="425.2" x2="502.5" y2="425.2" stroke="#505050" stroke-width="0.7"/>
<text x="499.3" y="428.75" text-anchor="end" font-size="9.9" fill="#262626">0</text>
<line x1="500.9" y1="371.35" x2="502.5" y2="371.35" stroke="#505050" stroke-width="0.7"/>
<text x="499.3" y="374.9" text-anchor="end" font-size="9.9" fill="#262626">5</text>
<line x1="500.9" y1="317.5" x2="502.5" y2="317.5" stroke="#505050" stroke-width="0.7"/>
<text x="499.3" y="321.05" text-anchor="end" font-size="9.9" fill="#262626">10</text>
<line x1="520.2" y1="432.3" x2="520.2" y2="433.9" stroke="#505050" stroke-width="0.7"/>
<text transform="translate(525,440.2) rotate(-45)" text-anchor="end" font-size="10.3" fill="#000000">Con</text>
<line x1="549.52" y1="432.3" x2="549.52" y2="433.9" stroke="#505050" stroke-width="0.7"/>
<text transform="translate(554.32,440.2) rotate(-45)" text-anchor="end" font-size="10.3" fill="#000000">Dex</text>
<line x1="578.84" y1="432.3" x2="578.84" y2="433.9" stroke="#505050" stroke-width="0.7"/>
<text transform="translate(583.64,440.2) rotate(-45)" text-anchor="end" font-size="10.3" fill="#000000">Dex + Oxy</text>
<line x1="608.16" y1="432.3" x2="608.16" y2="433.9" stroke="#505050" stroke-width="0.7"/>
<text transform="translate(612.96,440.2) rotate(-45)" text-anchor="end" font-size="10.3" fill="#000000">Dex + PU 100</text>
<line x1="637.48" y1="432.3" x2="637.48" y2="433.9" stroke="#505050" stroke-width="0.7"/>
<text transform="translate(642.28,440.2) rotate(-45)" text-anchor="end" font-size="10.3" fill="#000000">Dex + PU 50</text>
<line x1="666.8" y1="432.3" x2="666.8" y2="433.9" stroke="#505050" stroke-width="0.7"/>
<text transform="translate(671.6,440.2) rotate(-45)" text-anchor="end" font-size="10.3" fill="#000000">Dex + PU 10</text>
</svg>
</body></html>
